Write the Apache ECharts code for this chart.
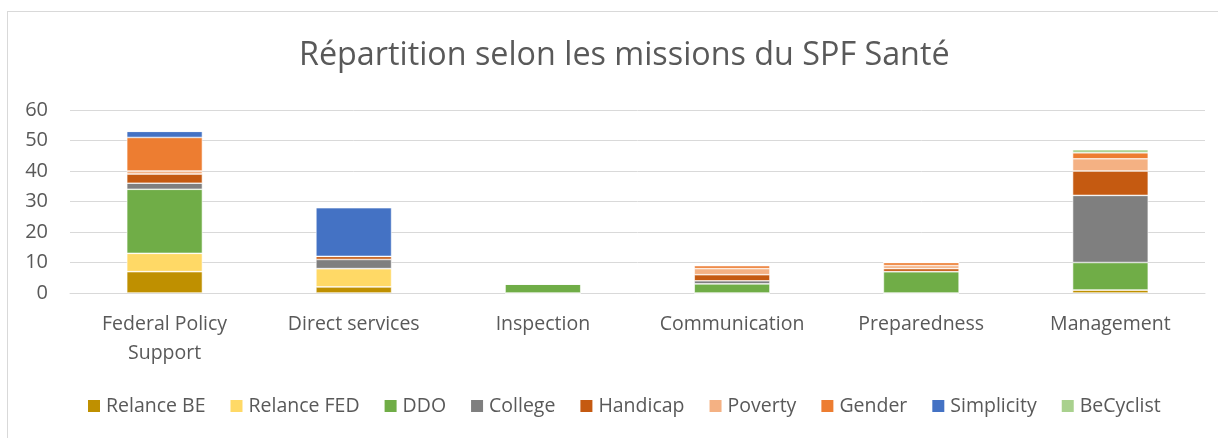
<!DOCTYPE html>
<html>
<head>
<meta charset="utf-8">
<script src="https://cdn.jsdelivr.net/npm/echarts@6/dist/echarts.min.js"></script>
<style>
  html, body { margin: 0; padding: 0; background: #fff; }
  #frame { position: absolute; left: 7px; top: 11px; width: 1220px; height: 440px;
           border-left: 1px solid #d9d9d9; border-top: 1px solid #d9d9d9; }
  #chart { position: absolute; left: 0; top: 0; width: 1218px; height: 438px; }
</style>
</head>
<body>
<div id="frame"></div>
<div id="chart"></div>
<script>
// categories (missions)
var missions = ['Federal Policy\nSupport', 'Direct services', 'Inspection', 'Communication', 'Preparedness', 'Management']
var yTicks = [0, 10, 20, 30, 40, 50, 60]

// values per programme
var relanceBE = [7, 2, 0, 0, 0, 1]
var relanceFED = [6, 6, 0, 0, 0, 0]
var ddo = [21, 0, 3, 3, 7, 9]
var college = [2, 3, 0, 1, 0, 22]
var handicap = [3, 1, 0, 2, 1, 8]
var poverty = [1, 0, 0, 2, 1, 4]
var gender = [11, 0, 0, 1, 1, 2]
var simplicity = [2, 16, 0, 0, 0, 0]
var beCyclist = [0, 0, 0, 0, 0, 1]

var seriesList = [
  ['Relance BE', relanceBE, '#BF9000'],
  ['Relance FED', relanceFED, '#FFD966'],
  ['DDO', ddo, '#70AD47'],
  ['College', college, '#7F7F7F'],
  ['Handicap', handicap, '#C55A11'],
  ['Poverty', poverty, '#F4B183'],
  ['Gender', gender, '#ED7D31'],
  ['Simplicity', simplicity, '#4472C4'],
  ['BeCyclist', beCyclist, '#A9D18E']
]

var myChart = echarts.init(document.getElementById('chart'))
var fontName = 'Open Sans'
var option = {
  animation: false,
  title: {
    text: 'Répartition selon les missions du SPF Santé',
    left: 294,
    top: 35,
    textStyle: { fontFamily: fontName, fontSize: 32.3, fontWeight: 'normal', color: '#595959' }
  },
  legend: {
    bottom: 17,
    left: 81,
    itemWidth: 14,
    itemHeight: 14,
    itemGap: 23,
    icon: 'rect',
    textStyle: { fontFamily: fontName, fontSize: 19.5, color: '#595959' },
    data: seriesList.map(function (s) { return s[0] })
  },
  grid: {
    left: 70,
    right: 13,
    top: 110,
    bottom: 145
  },
  xAxis: {
    type: 'category',
    data: missions,
    axisLine: { lineStyle: { color: '#d9d9d9' } },
    axisTick: { show: false },
    axisLabel: { interval: 0, fontFamily: fontName, fontSize: 19.5, color: '#595959', margin: 17, lineHeight: 29 }
  },
  yAxis: {
    type: 'value',
    min: yTicks[0],
    max: yTicks[yTicks.length - 1],
    interval: 10,
    axisLine: { show: false },
    axisTick: { show: false },
    splitLine: { lineStyle: { color: '#d9d9d9', width: 1 } },
    axisLabel: { fontFamily: fontName, fontSize: 20, color: '#595959', margin: 22 }
  },
  series: seriesList.map(function (s) {
    return {
      name: s[0],
      type: 'bar',
      stack: 'total',
      barWidth: '40%',
      data: s[1],
      itemStyle: { color: s[2], borderColor: '#ffffff', borderWidth: 0.6 }
    }
  })
}
myChart.setOption(option)
</script>
</body>
</html>
